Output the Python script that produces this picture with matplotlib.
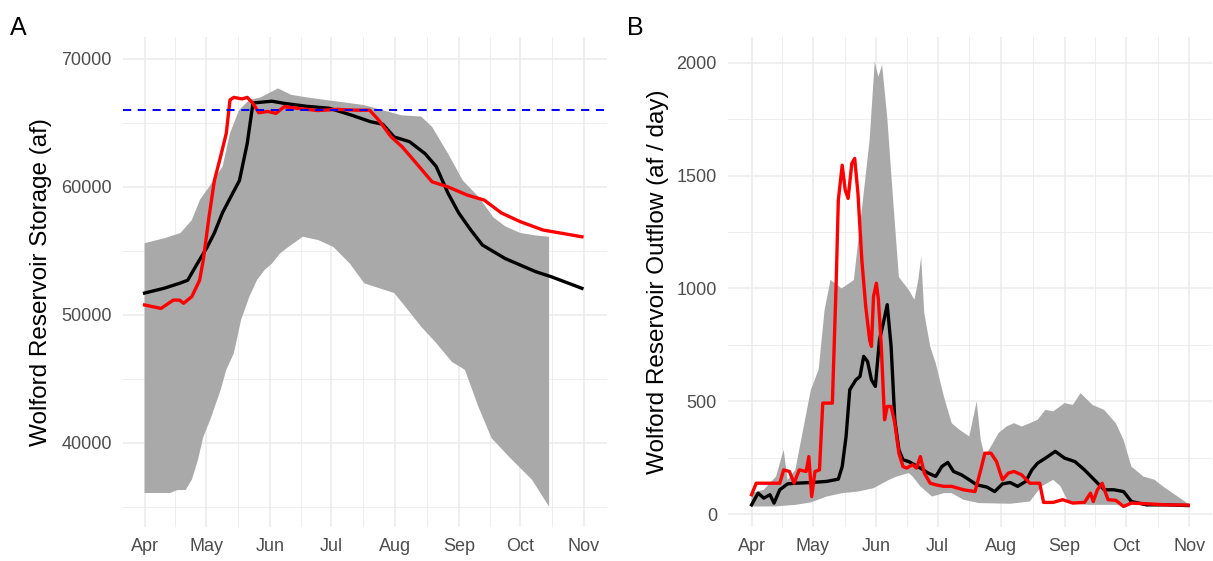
#!/usr/bin/env python3
"""Wolford Reservoir storage (A) and outflow (B): ensemble range, observed and simulated."""

import numpy as np
import matplotlib
matplotlib.use('Agg')
import matplotlib.pyplot as plt
import matplotlib.dates as mdates
from datetime import datetime

START = mdates.date2num(datetime(2019, 4, 1))

# ---- Panel A: storage (af), x = days since Apr 1 ----
a_band_hi_day = [0, 10, 17.5, 23, 27, 31, 38, 41.6, 46, 51, 56.5, 65, 71.4, 79, 88, 97.5,
                 106.8, 116, 125, 134.7, 140, 147.8, 155, 162.8, 170, 175.8, 183, 190.6, 197]
a_band_hi = [55600, 56000, 56400, 57400, 59000, 59900, 61600, 64200, 66000, 66800, 67000,
             67700, 67200, 67000, 66800, 66600, 66400, 66000, 65600, 65500, 64700, 62600,
             60500, 59200, 57600, 56900, 56400, 56200, 56100]
a_band_lo_day = [0, 12.5, 16, 20, 23, 26, 28.6, 32, 37, 39.8, 43.5, 47, 51, 54.7, 58.4, 62,
                 66, 70, 77, 84.5, 92, 100, 107, 121.6, 127, 134.7, 142, 149.6, 156, 162.6,
                 169, 177.5, 188.7, 197]
a_band_lo = [36070, 36070, 36300, 36300, 37100, 38650, 40450, 41800, 44100, 45700, 47000,
             49600, 51400, 52700, 53500, 54000, 54800, 55300, 56100, 55850, 55300, 54000,
             52460, 51700, 50630, 49070, 47800, 46330, 45700, 42800, 40350, 38900, 37100,
             35000]

a_black_day = [0, 9.4, 17, 21, 24.8, 30.5, 34, 38, 41.6, 46.2, 50, 52.8, 54, 62, 68, 79, 90,
               101, 110, 116, 121.6, 129, 136.6, 142, 147.8, 153, 159, 164.5, 175.6, 190.5,
               198, 213]
a_black = [51700, 52070, 52460, 52700, 53760, 55300, 56400, 58000, 59100, 60500, 63400,
           66550, 66580, 66700, 66530, 66300, 66150, 65600, 65100, 64900, 63900, 63540,
           62600, 61600, 59500, 57960, 56600, 55460, 54400, 53370, 52980, 52070]

a_red_day = [0, 8, 14, 17, 19, 23, 26.8, 28.6, 31.4, 34, 37, 39.8, 41.6, 43.5, 47.5, 50,
             52.8, 55.6, 60, 64, 68, 75, 84.5, 93.8, 103, 109.6, 114, 120, 125.4, 131, 140,
             147.8, 157, 165.4, 173.8, 183, 194, 213]
a_red = [50770, 50500, 51150, 51150, 50900, 51420, 52700, 54300, 57670, 60500, 62360, 64190,
         66800, 67000, 66880, 67000, 66530, 65800, 65900, 65750, 66270, 66130, 65970, 66060,
         66000, 66000, 65230, 63930, 63140, 62100, 60400, 60000, 59370, 58970, 57960, 57280,
         56630, 56100]

storage_target = 66000

# ---- Panel B: outflow (af/day) ----
b_band_hi_day = [0, 6, 12, 15.7, 17.6, 21.4, 25.2, 29, 32.8, 35.7, 38.6, 44, 50, 52, 54.8,
                 57.7, 60.2, 62, 63.8, 66.3, 69.2, 72, 73, 76.8, 79.6, 81.5, 82.9, 84.4,
                 87.3, 90, 94, 97.8, 101.6, 106.4, 110, 112, 114, 117, 120.7, 124.5, 128.3,
                 132, 136, 139.8, 143.6, 147.4, 153, 157, 160.8, 166.6, 172.3, 178, 181.8,
                 185.6, 191.4, 197, 201, 204.7, 210.5, 213.3]
b_band_hi = [93, 108, 167, 285, 152, 196, 374, 551, 640, 905, 1038, 1000, 1037, 1200, 1422,
             1657, 2004, 1938, 1990, 1760, 1391, 1051, 1038, 994, 950, 1038, 1140, 891, 743,
             669, 521, 403, 374, 344, 499, 329, 255, 300, 359, 388, 403, 388, 403, 418, 462,
             455, 492, 484, 536, 484, 462, 403, 329, 211, 167, 152, 123, 100, 64, 46]
b_band_lo_day = [0, 11.5, 21.4, 29, 36.7, 44.3, 52, 59.6, 67.2, 71, 76.8, 78.7, 82.5, 88.2,
                 94, 97.8, 103.5, 111, 126.4, 136, 141.7, 147.4, 151, 155, 164.5, 174, 193,
                 213.3]
b_band_lo = [34, 34, 41, 52, 78, 93, 100, 115, 152, 167, 182, 167, 123, 78, 93, 93, 64, 49,
             46, 56, 123, 152, 123, 49, 41, 41, 41, 41]

b_black_day = [0, 3.2, 6, 9, 11, 13.8, 17.6, 21.4, 29, 36.7, 42.4, 44.3, 46.2, 48, 51, 53,
               54.8, 56.7, 58.6, 60.5, 62.5, 64.4, 66.3, 68.2, 70, 72, 74, 76.8, 79.6, 82.5,
               86.3, 90, 93, 95.9, 98.7, 102.6, 106.4, 110, 115, 118.8, 122.6, 126.4, 130,
               134, 137, 139.8, 143.6, 148.4, 153, 158, 162.7, 167.5, 172.3, 177, 181.8,
               185.6, 193, 202.8, 213.3]
b_black = [41, 93, 71, 86, 49, 108, 134, 137, 140, 145, 155, 211, 344, 551, 595, 610, 699,
           676, 595, 566, 772, 846, 928, 743, 418, 285, 241, 233, 219, 204, 182, 167, 211,
           229, 189, 174, 152, 130, 120, 100, 134, 140, 123, 145, 196, 226, 248, 278, 248,
           233, 196, 152, 108, 108, 100, 56, 41, 41, 38]

b_red_day = [0, 2.3, 13.8, 15.7, 18.5, 20.8, 23.3, 26.7, 28, 29.4, 31, 33.2, 34.8, 39.5,
             41.4, 42.4, 44.3, 45.8, 47.2, 49, 50.4, 52, 53.9, 55.8, 57.7, 58.6, 59.6, 61,
             62, 63.4, 65, 66.3, 68.2, 70, 72, 74, 75.8, 78.7, 80.6, 82.5, 84.4, 87.3, 90,
             94, 97.8, 103.5, 109.2, 112, 114, 117, 119.7, 122.6, 125.5, 128.3, 132, 136,
             140.8, 142.7, 147.4, 152, 157, 162.7, 165.6, 167, 169, 171.3, 174.2, 178,
             181.8, 185.6, 193, 202.8, 213.3]
b_red = [86, 137, 137, 196, 189, 137, 196, 189, 255, 78, 189, 196, 492, 492, 1038, 1391,
         1546, 1435, 1399, 1554, 1576, 1422, 1125, 920, 772, 743, 964, 1023, 950, 743, 418,
         477, 477, 403, 270, 211, 204, 219, 204, 255, 182, 137, 130, 123, 123, 108, 100,
         196, 270, 270, 233, 152, 182, 189, 174, 137, 137, 52, 52, 64, 49, 52, 93, 56, 108,
         137, 64, 61, 34, 49, 46, 41, 40]


def d(days):
    return START + np.asarray(days, dtype=float)


def style_axes(ax, ylim, major_y, minor_y):
    month_starts = [mdates.date2num(datetime(2019, m, 1)) for m in range(4, 12)]
    mids = [(a + b) / 2 for a, b in zip(month_starts[:-1], month_starts[1:])]
    ax.set_xticks(month_starts)
    ax.set_xticks(mids, minor=True)
    ax.xaxis.set_major_formatter(mdates.DateFormatter('%b'))
    ax.set_xlim(START - 10.5, month_starts[-1] + 11.2)
    ax.set_ylim(*ylim)
    ax.set_yticks(major_y)
    ax.set_yticks(minor_y, minor=True)
    ax.grid(which='major', color='#EBEBEB', lw=1.1)
    ax.grid(which='minor', color='#EBEBEB', lw=0.6)
    ax.set_axisbelow(True)
    for s in ax.spines.values():
        s.set_visible(False)
    ax.tick_params(which='both', length=0, labelsize=13, labelcolor='#4D4D4D')
    ax.tick_params(axis='y', pad=8)
    ax.tick_params(axis='x', pad=8)


def main():
    plt.rcParams['font.family'] = ['Liberation Sans', 'DejaVu Sans']
    fig = plt.figure(figsize=(12.13, 5.61), dpi=100)
    axA = fig.add_axes([123 / 1213, 34 / 561, 484 / 1213, 490 / 561])
    axB = fig.add_axes([728 / 1213, 34 / 561, 484 / 1213, 490 / 561])

    # Panel A
    axA.fill(np.concatenate([d(a_band_hi_day), d(a_band_lo_day)[::-1]]),
             np.concatenate([a_band_hi, a_band_lo[::-1]]), color='#A9A9A9', lw=0)
    axA.plot(d(a_black_day), a_black, color='black', lw=2.4, solid_joinstyle='round')
    axA.plot(d(a_red_day), a_red, color='#FF0000', lw=2.4, solid_joinstyle='round')
    axA.axhline(storage_target, color='#0000FF', lw=1.4, ls=(0, (4.2, 3.4)))
    style_axes(axA, (33410, 71720), [40000, 50000, 60000, 70000],
               [35000, 45000, 55000, 65000])
    axA.text(-0.169, 0.5, 'Wolford Reservoir Storage (af)', transform=axA.transAxes,
             rotation=90, ha='center', va='center', fontsize=17.5)

    # Panel B
    axB.fill(np.concatenate([d(b_band_hi_day), d(b_band_lo_day)[::-1]]),
             np.concatenate([b_band_hi, b_band_lo[::-1]]), color='#A9A9A9', lw=0)
    axB.plot(d(b_black_day), b_black, color='black', lw=2.4, solid_joinstyle='round')
    axB.plot(d(b_red_day), b_red, color='#FF0000', lw=2.4, solid_joinstyle='round')
    style_axes(axB, (-57, 2114), [0, 500, 1000, 1500, 2000], [250, 750, 1250, 1750])
    axB.set_xlim(START - 11.5, START + 214 + 11)
    axB.text(-0.1446, 0.5, 'Wolford Reservoir Outflow (af / day)', transform=axB.transAxes,
             rotation=90, ha='center', va='center', fontsize=17.5)

    fig.text(10 / 1213, 1 - 35 / 561, 'A', fontsize=18, va='baseline')
    fig.text(627 / 1213, 1 - 35 / 561, 'B', fontsize=18, va='baseline')

    fig.savefig('out.png', dpi=100)
    plt.close(fig)
    print('Saved out.png')


if __name__ == '__main__':
    main()
